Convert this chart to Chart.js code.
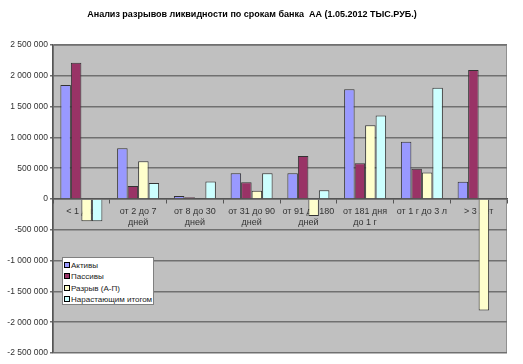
<!DOCTYPE html>
<html><head><meta charset="utf-8">
<script src="https://cdn.jsdelivr.net/npm/chart.js@4/dist/chart.umd.min.js"></script>
<style>
html,body{margin:0;padding:0;background:#fff;}
#wrap{position:relative;width:523px;height:364px;}
#title{position:absolute;left:0;width:504px;top:9px;text-align:center;font:bold 9px "Liberation Sans",Arial,sans-serif;color:#000;white-space:pre;}
#legend{position:absolute;left:62px;top:257px;width:92px;height:48px;background:#fff;border:1px solid #808080;font:8px "Liberation Sans",Arial,sans-serif;color:#222;padding:2px 0 0 1px;box-sizing:border-box;}
#legend div{height:11.3px;line-height:11.3px;white-space:nowrap;}
#legend span{display:inline-block;width:4px;height:4px;border:1px solid #000;margin-right:1px;vertical-align:0px;}
</style></head><body>
<div id="wrap">
<canvas id="c" width="523" height="364"></canvas>
<div id="title">Анализ разрывов ликвидности по срокам банка  АА (1.05.2012 ТЫС.РУБ.)</div>
<div id="legend"></div>
</div>
<script>
const categories = [["< 1 дня"], ["от 2 до 7", "дней"], ["от 8 до 30", "дней"], ["от 31 до 90", "дней"], ["от 91 до 180", "дней"], ["от 181 дня", "до 1 г"], ["от 1 г до 3 л"], ["> 3 лет"]];
const seriesNames = ["Активы", "Пассивы", "Разрыв (А-П)", "Нарастающим итогом"];
const assets = [1850000, 823000, 47000, 417000, 417000, 1780000, 931000, 281000];
const liabilities = [2210000, 211000, 27000, 271000, 698000, 579000, 492000, 2094000];
const gap = [-360000, 612000, 15000, 135000, -275000, 1198000, 430000, -1810000];
const cumulative = [-360000, 258000, 285000, 418000, 142000, 1355000, 1805000, 0];
const yTicks = [-2500000, -2000000, -1500000, -1000000, -500000, 0, 500000, 1000000, 1500000, 2000000, 2500000];

const colors = ["#9999FF", "#993366", "#FFFFCC", "#CCFFFF"];
const values = [assets, liabilities, gap, cumulative];

function fmt(v){
  const s = String(Math.abs(v)).replace(/\B(?=(\d{3})+(?!\d))/g, ' ');
  return (v < 0 ? '-' : '') + s;
}

const plotBg = {
  id: 'plotBg',
  beforeDraw(chart){
    const {ctx, chartArea:a} = chart;
    ctx.save();
    ctx.fillStyle = '#C0C0C0';
    ctx.fillRect(a.left, a.top, a.right - a.left, a.bottom - a.top);
    ctx.strokeStyle = '#909090';
    ctx.lineWidth = 1;
    ctx.strokeRect(a.left + 0.5, a.top + 0.5, a.right - a.left - 1, a.bottom - a.top - 1);
    ctx.restore();
  }
};

const chart = new Chart(document.getElementById('c'), {
  type: 'bar',
  data: {
    labels: categories,
    datasets: values.map((d, i) => ({
      label: seriesNames[i],
      data: d,
      backgroundColor: colors[i],
      borderColor: '#333',
      borderWidth: 1,
      categoryPercentage: 0.74,
      barPercentage: 1.0
    }))
  },
  options: {
    responsive: false,
    animation: false,
    layout: { padding: { left: 0, right: 16, top: 45, bottom: 11 } },
    plugins: { legend: { display: false }, title: { display: false }, tooltip: { enabled: false } },
    scales: {
      x: {
        position: { y: 0 },
        grid: { drawOnChartArea: false, drawTicks: true, tickLength: 4, color: '#555', offset: true },
        border: { display: true, color: '#555', width: 1.5 },
        ticks: { color: '#333', font: { family: '"Liberation Sans", Arial, sans-serif', size: 9 }, maxRotation: 0, autoSkip: false, padding: 3 }
      },
      y: {
        min: -2500000, max: 2500000,
        afterBuildTicks(s){ s.ticks = yTicks.map(v => ({ value: v })); },
        afterFit(s){ s.width = 53; },
        grid: { color: '#707070', lineWidth: 1.5, drawTicks: true, tickLength: 3 },
        border: { display: true, color: '#555', width: 1.5 },
        ticks: { color: '#333', font: { family: '"Liberation Sans", Arial, sans-serif', size: 8.5 }, padding: 2, callback: v => fmt(v) }
      }
    }
  },
  plugins: [plotBg]
});

const lg = document.getElementById('legend');
chart.data.datasets.forEach(ds => {
  const row = document.createElement('div');
  const sw = document.createElement('span');
  sw.style.background = ds.backgroundColor;
  row.appendChild(sw);
  row.appendChild(document.createTextNode(ds.label));
  lg.appendChild(row);
});
</script>
</body></html>
